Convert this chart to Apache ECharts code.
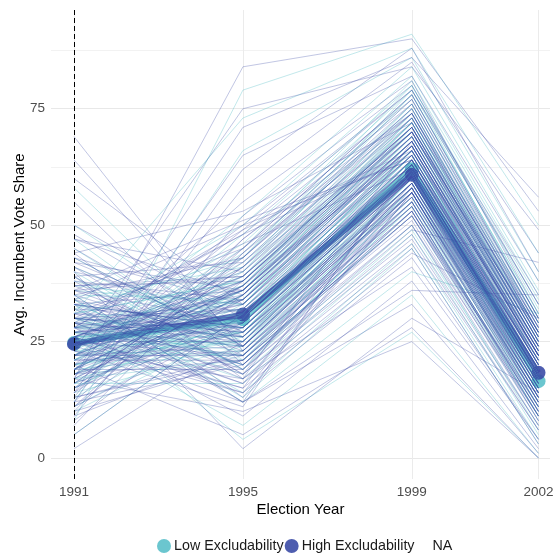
<!DOCTYPE html>
<html>
<head>
<meta charset="utf-8">
<script src="https://cdn.jsdelivr.net/npm/echarts@6/dist/echarts.min.js"></script>
<style>html,body{margin:0;padding:0;background:#fff;}#c{width:555px;height:555px;}</style>
</head>
<body>
<div id="c"></div>
<script>
var years = [1991, 1995, 1999, 2002];
var yTicks = [0, 25, 50, 75];
var yGrid = [0, 12.5, 25, 37.5, 50, 62.5, 75, 87.5];
var groupNames = ['Low Excludability', 'High Excludability', 'NA'];

// High excludability municipalities (entry i of each array = one municipality)
var high1991 = [22,35,14,41,27,9,31,19,25,38, 16,29,44,21,33,12,26,18,36,24, 30,7,20,28,47,15,34,23,11,27, 39,19,25,32,13,69,22,30,17,26, 43,21,10,29,35,24,18,64,28,14, 33,26,20,5,37,23,31,15,48,25, 19,28,36,12,22,30,17,55,26,34, 21,8,27,40,16,29,24,33,2,20, 31,18,25,37,13,60,23,28,19,32, 26,11,35,22,29,17,42,24,30,50,
  24,38,14,27,42,33,11,29,36,20, 45,17,25,39,12,28,19,41,23,31, 18,36,44,22,29,15,40,24,10,28, 33,47,26,17,30,13,37,19,25,43, 22,28,16,39,24,34,9,26,30,23];
var high1995 = [41,24,37,19,30,52,27,45,22,34, 29,48,17,36,25,62,33,21,39,14, 26,44,31,9,35,28,20,50,38,32, 18,42,25,30,58,23,36,27,84,15, 33,21,47,26,12,39,30,24,35,65, 28,40,5,31,22,55,19,34,27,43, 37,16,29,45,24,32,71,20,38,26, 23,35,30,2,41,18,28,36,25,49, 30,27,12,39,21,33,75,24,31,17, 36,29,43,22,34,10,27,38,20,30,
  33,18,47,22,36,12,44,25,51,38, 24,35,15,42,20,48,37,26,11,45, 34,23,53,29,16,43,31,36,21,49, 28,40,14,35,46,22,38,19,32,24, 37,29,41,13,34,50,23,39,28,17];
var high1999 = [70,58,66,49,62,80,57,74,53,65, 61,77,46,68,59,88,64,55,71,43, 56,73,63,38,67,60,52,79,69,62, 48,72,58,64,85,54,67,61,90,44, 66,51,76,59,33,70,63,57,68,82, 60,71,28,64,55,81,50,65,58,75, 69,45,62,78,57,63,86,53,70,59, 54,67,61,30,73,47,60,68,56,79, 63,58,36,70,52,65,84,57,62,41, 67,60,74,53,66,25,59,71,50,64,
  66,61,74,57,69,63,77,59,64,71, 55,68,62,75,53,65,70,60,64,78, 67,56,72,61,58,76,63,69,52,66, 60,73,57,68,62,54,71,59,65,58, 70,63,74,57,67,64,55,72,61,68];
var high2002 = [27,15,24,42,21,33,14,26,10,19, 18,30,6,23,17,40,20,12,25,4, 13,28,19,2,22,16,11,35,24,21, 7,25,14,22,44,9,20,18,53,30, 23,8,29,16,1,27,19,13,22,38, 17,24,0,21,12,31,9,20,15,27, 24,3,18,30,14,22,56,11,26,16, 10,23,17,14,28,6,15,22,13,33, 19,14,35,25,9,20,49,12,18,4, 22,16,29,8,21,0,15,27,7,20,
  22,17,27,13,24,18,29,15,20,25, 11,23,18,28,10,21,24,16,19,30, 22,12,26,17,14,28,19,23,9,21, 15,26,13,22,17,10,25,14,20,13, 24,18,27,12,22,19,11,26,16,23];

// Low excludability municipalities
var low1991 = [27,18,33,22,40,13,29,24,36,16, 31,20,47,25,11,34,21,28,8,38, 23,30,15,26,58,19,35,22,28,12, 32,24,17,41,27,5,30,21,45,25, 18,33,26,14,37,23,29,20,50,31, 16,27,24,39,10,28,22,34,19,26, 43,21,30,25,17,
  25,20,31,17,28,23,34,19,26,22, 30,15,27,21,33,24,18,29,25,32, 20,27,23,35,16,28,22,30,26,19];
var low1995 = [22,36,28,44,19,31,50,25,33,16, 38,27,21,46,30,13,35,24,79,29, 42,18,32,26,23,48,12,37,28,66, 20,34,40,25,7,31,27,43,22,36, 29,4,39,24,33,52,17,30,26,73, 35,23,41,19,28,32,45,14,37,27, 24,30,21,38,26,
  30,25,38,21,34,27,41,23,29,36, 26,33,24,39,20,31,35,28,32,43, 27,37,22,34,30,40,25,33,29,36];
var low1999 = [58,70,64,77,55,66,82,61,68,48, 72,63,52,79,65,45,71,60,91,64, 75,50,67,62,57,80,40,73,64,86, 54,69,74,59,35,66,61,78,56,70, 63,27,73,58,68,84,49,65,60,88, 69,57,76,53,62,67,81,46,72,61, 59,65,55,71,63,
  67,62,75,58,70,64,79,60,66,73, 57,69,63,76,54,66,72,61,65,80, 59,74,56,71,64,78,60,68,63,72];
var low2002 = [12,24,19,30,9,20,36,15,23,5, 26,18,8,33,21,3,25,14,50,17, 28,6,22,16,13,34,31,27,19,40, 10,23,29,14,1,20,17,31,11,24, 18,0,26,13,22,38,7,21,15,44, 24,12,29,9,16,21,35,4,27,17, 14,19,11,25,18,
  21,16,27,12,23,18,30,14,20,26, 11,22,17,29,9,20,25,15,19,32, 13,27,10,24,18,31,14,22,17,25];

// Group averages
var lowMean = [24.7, 29.8, 62.0, 16.5];
var highMean = [24.5, 30.8, 60.8, 18.3];

var tealCol = '#5BC0CA';
var navyCol = '#3B4BA6';
var fontFam = '"Liberation Sans", Arial, sans-serif';

function pts(vals) { return years.map(function (y, i) { return [y, vals[i]]; }); }

var series = [];
series.push({
  type: 'line', name: groupNames[0], data: pts(lowMean), symbol: 'circle', symbolSize: 14,
  lineStyle: { color: tealCol, width: 5, opacity: 0.8 },
  itemStyle: { color: tealCol, opacity: 0.9 }, z: 1, animation: false
});
series.push({
  type: 'line', name: groupNames[1], data: pts(highMean), symbol: 'circle', symbolSize: 14,
  lineStyle: { color: '#3D52AA', width: 5.5, opacity: 0.85 },
  itemStyle: { color: navyCol, opacity: 0.9 }, z: 1, animation: false
});
series.push({ type: 'line', name: groupNames[2], data: [], itemStyle: { color: 'rgba(0,0,0,0)' } });

function addGroup(a, b, c, d, col, op, tag) {
  for (var i = 0; i < a.length; i++) {
    series.push({
      type: 'line', name: tag + i, silent: true, symbol: 'none',
      data: pts([a[i], b[i], c[i], d[i]]),
      lineStyle: { color: col, width: 0.8, opacity: op },
      z: 2, animation: false
    });
  }
}
addGroup(low1991, low1995, low1999, low2002, tealCol, 0.47, 'l');
addGroup(high1991, high1995, high1999, high2002, navyCol, 0.4, 'h');

series.push({
  type: 'line', data: [], silent: true, z: 5,
  markLine: {
    silent: true, symbol: ['none', 'none'], label: { show: false },
    lineStyle: { color: '#000', type: [5, 3], width: 1 },
    data: [{ xAxis: years[0] }], animation: false
  }
});

var chart = echarts.init(document.getElementById('c'), null, { renderer: 'canvas' });
chart.setOption({
  animation: false,
  backgroundColor: '#fff',
  grid: { left: 51, right: 5, top: 10, bottom: 76, containLabel: false, outerBoundsMode: 'none' },
  xAxis: {
    type: 'value', min: 1990.455, max: 2002.272,
    name: 'Election Year', nameLocation: 'middle', nameGap: 23, nameMoveOverlap: false,
    nameTextStyle: { color: '#000', fontSize: 15, fontFamily: fontFam },
    axisLine: { show: false },
    axisTick: { show: false, customValues: years },
    axisLabel: { customValues: years, color: '#4D4D4D', fontSize: 13.5, fontFamily: fontFam, margin: 6,
      formatter: function (v) { return String(v); } },
    splitLine: { show: true, lineStyle: { color: '#EBEBEB', width: 1 } }
  },
  yAxis: {
    type: 'value', min: -4.51, max: 96.2,
    name: 'Avg. Incumbent Vote Share', nameLocation: 'middle', nameGap: 24, nameRotate: 90, nameMoveOverlap: false,
    nameTextStyle: { color: '#000', fontSize: 15, fontFamily: fontFam },
    axisLine: { show: false },
    axisTick: { show: false, customValues: yGrid },
    axisLabel: { customValues: yTicks, color: '#4D4D4D', fontSize: 13.5, fontFamily: fontFam, margin: 6 },
    splitLine: { show: true, lineStyle: { color: ['#E8E8E8', '#F2F2F2'], width: 1 } }
  },
  legend: {
    left: 152, top: 534, itemWidth: 14, itemHeight: 14, itemGap: 1,
    icon: 'circle',
    textStyle: { color: '#1A1A1A', fontSize: 14.3, fontFamily: fontFam, padding: [0, 0, 0, -2] },
    data: [
      { name: groupNames[0], itemStyle: { color: tealCol, opacity: 0.9 } },
      { name: groupNames[1], itemStyle: { color: navyCol, opacity: 0.9 } },
      { name: groupNames[2], itemStyle: { color: 'rgba(0,0,0,0)' } }
    ],
    selectedMode: false
  },
  series: series
});
</script>
</body>
</html>
